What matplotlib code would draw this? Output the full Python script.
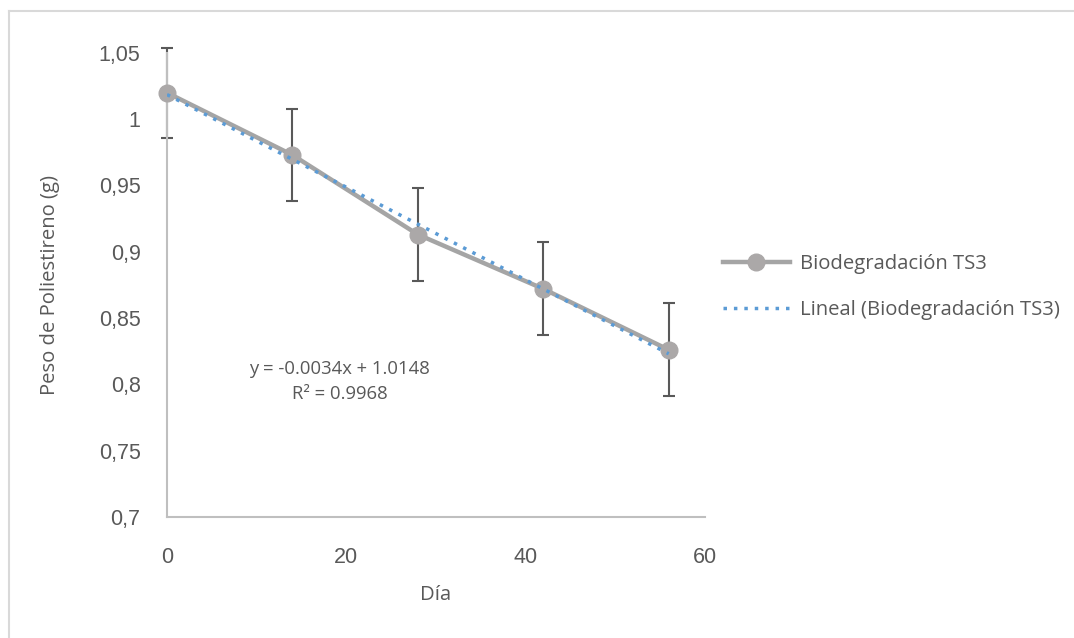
import numpy as np
import matplotlib
matplotlib.use("Agg")
import matplotlib.pyplot as plt
from matplotlib.lines import Line2D

# ── Data ──────────────────────────────────────────────
dias = [0, 14, 28, 42, 56]
peso = [1.020, 0.973, 0.913, 0.872, 0.826]
error = [0.034, 0.035, 0.035, 0.035, 0.035]

x_ticks = [0, 20, 40, 60]
y_ticks = [0.70, 0.75, 0.80, 0.85, 0.90, 0.95, 1.00, 1.05]
y_labels = ["0,7", "0,75", "0,8", "0,85", "0,9", "0,95", "1", "1,05"]

ecuacion = "y = -0.0034x + 1.0148"
r2 = "R² = 0.9968"

# ── Trend line ───────────────────────────────────────
m, b = np.polyfit(dias, peso, 1)
x_fit = np.array([dias[0], dias[-1]])
y_fit = m * x_fit + b

txt = "#595959"
fig = plt.figure(figsize=(10.74, 6.38), dpi=100)
ax = fig.add_axes([0.1555, 0.19, 0.5005, 0.727])

ax.errorbar(dias, peso, yerr=error, fmt="none", ecolor="#595959",
            elinewidth=1.5, capsize=4.5, capthick=1.5, zorder=2, clip_on=False)
ax.plot(dias, peso, color="#A5A5A5", linewidth=3.2, marker="o",
        markersize=12, markerfacecolor="#ABA8A8", markeredgecolor="#ABA8A8",
        zorder=3, label="Biodegradación TS3", clip_on=False)
ax.plot(x_fit, y_fit, color="#5B9BD5", linewidth=2.5, linestyle=(0, (1, 2)),
        zorder=4, label="Lineal (Biodegradación TS3)")

ax.set_xlim(0, 60)
ax.set_ylim(0.7, 1.05)
ax.set_xticks(x_ticks)
ax.set_yticks(y_ticks)
ax.set_yticklabels(y_labels)
ax.tick_params(length=0, labelsize=15.5, colors=txt)
ax.tick_params(axis="y", pad=19)
ax.tick_params(axis="x", pad=22)
for lab in ax.get_xticklabels() + ax.get_yticklabels():
    lab.set_family("Liberation Sans")

for s in ["top", "right"]:
    ax.spines[s].set_visible(False)
for s in ["left", "bottom"]:
    ax.spines[s].set_color("#BFBFBF")
    ax.spines[s].set_linewidth(1.5)

ax.set_xlabel("Día", fontsize=14.6, color=txt, family="Open Sans", labelpad=12)
ax.set_ylabel("Peso de Poliestireno (g)", fontsize=14.6, color=txt,
              family="Open Sans", labelpad=28)

ax.text(19.3, 0.8115, ecuacion, ha="center", va="center", fontsize=13.3,
        color=txt, family="Open Sans")
ax.text(19.3, 0.7925, r2, ha="center", va="center", fontsize=13.3,
        color=txt, family="Open Sans")

leg = ax.legend(loc="center left", bbox_to_anchor=(1.0, 0.495), frameon=False,
                prop={"family": "Open Sans", "size": 14.6}, labelcolor=txt,
                handlelength=3.3, handletextpad=0.5, labelspacing=1.3)

# chart area border (top and left visible)
fig.add_artist(Line2D([0.0084, 1.0], [0.983, 0.983], color="#D9D9D9",
                      linewidth=1.5, transform=fig.transFigure))
fig.add_artist(Line2D([0.0084, 0.0084], [0.0, 0.983], color="#D9D9D9",
                      linewidth=1.5, transform=fig.transFigure))

fig.savefig("out.png", dpi=100, facecolor="white")
